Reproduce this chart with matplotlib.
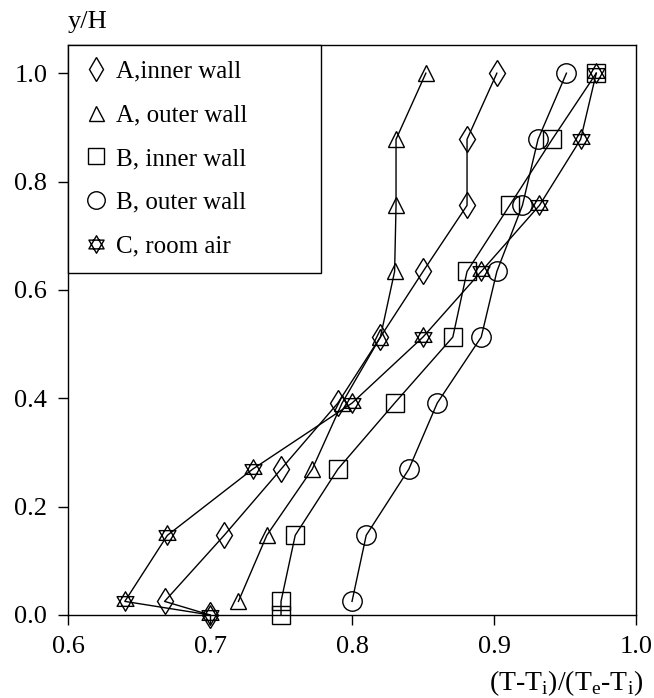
import numpy as np
import matplotlib
matplotlib.use("Agg")
import matplotlib.pyplot as plt
from matplotlib.path import Path
from matplotlib.lines import Line2D

plt.rcParams['font.family'] = ['Liberation Serif', 'DejaVu Serif']
plt.rcParams['mathtext.fontset'] = 'custom'
plt.rcParams['mathtext.rm'] = 'Liberation Serif'

# measuring heights y/H (bottom to top)
heights = [0.0, 0.025, 0.147, 0.269, 0.391, 0.513, 0.634, 0.756, 0.878, 1.0]

a_inner = [0.700, 0.668, 0.710, 0.750, 0.790, 0.820, 0.850, 0.881, 0.881, 0.902]
a_outer = [None, 0.720, 0.740, 0.772, 0.793, 0.820, 0.830, 0.831, 0.831, 0.852]
b_inner = [0.750, 0.750, 0.760, 0.790, 0.830, 0.871, 0.881, 0.911, 0.941, 0.972]
b_outer = [None, 0.800, 0.810, 0.840, 0.860, 0.891, 0.902, 0.920, 0.931, 0.951]
c_air = [0.700, 0.640, 0.670, 0.730, 0.800, 0.850, 0.891, 0.932, 0.961, 0.972]

labels = ["A,inner wall", "A, outer wall", "B, inner wall", "B, outer wall", "C, room air"]

# star of David marker: two overlapping triangles
ang_up = np.radians([90, 210, 330])
ang_dn = np.radians([270, 30, 150])
verts = []
for ang in (ang_up, ang_dn):
    pts = list(zip(np.cos(ang), np.sin(ang)))
    verts += pts + [pts[0]]
codes = [Path.MOVETO, Path.LINETO, Path.LINETO, Path.CLOSEPOLY] * 2
star = Path(verts, codes)

series = [
    (a_inner, 'd', 13.5),
    (a_outer, '^', 12),
    (b_inner, 's', 13),
    (b_outer, 'o', 14),
    (c_air, star, 14),
]

fig = plt.figure(figsize=(6.54, 6.98), dpi=100)
ax = fig.add_axes([0.104, 0.119, 0.8685, 0.8165])

handles = []
for (xs, mk, ms), lab in zip(series, labels):
    x = [v for v in xs if v is not None]
    y = [h for v, h in zip(xs, heights) if v is not None]
    ax.plot(x, y, color='black', lw=1.0, marker=mk, ms=ms,
            mfc='none', mec='black', mew=1.0, clip_on=False)
    handles.append(Line2D([], [], ls='None', marker=mk, ms=ms, mfc='none',
                          mec='black', mew=1.0))

ax.set_xlim(0.6, 1.0)
ax.set_ylim(0.0, 1.052)
ax.set_xticks([0.6, 0.7, 0.8, 0.9, 1.0])
ax.set_yticks([0.0, 0.2, 0.4, 0.6, 0.8, 1.0])
ax.set_xticklabels(["0.6", "0.7", "0.8", "0.9", "1.0"])
ax.set_yticklabels(["0.0", "0.2", "0.4", "0.6", "0.8", "1.0"])
ax.tick_params(direction='out', length=7, width=1.0, labelsize=19, pad=8)
for sp in ax.spines.values():
    sp.set_linewidth(1.0)

leg = ax.legend(handles, labels, loc='upper left', bbox_to_anchor=(0, 0, 0.445, 1),
                mode='expand', borderaxespad=0, fancybox=False, framealpha=1,
                edgecolor='black', fontsize=18, markerscale=0.9, numpoints=1,
                handlelength=1.0, handletextpad=0.3, borderpad=0.6, labelspacing=0.85)
leg.get_frame().set_linewidth(1.0)

fig.text(68 / 654, 1 - 22 / 698, "y/H", fontsize=19, ha='left', va='center')
fig.text(643 / 654, 1 - 683 / 698,
         r"(T-T$_\mathrm{i}$)/(T$_\mathrm{e}$-T$_\mathrm{i}$)",
         fontsize=20, ha='right', va='center')

fig.savefig("out.png", dpi=100)
